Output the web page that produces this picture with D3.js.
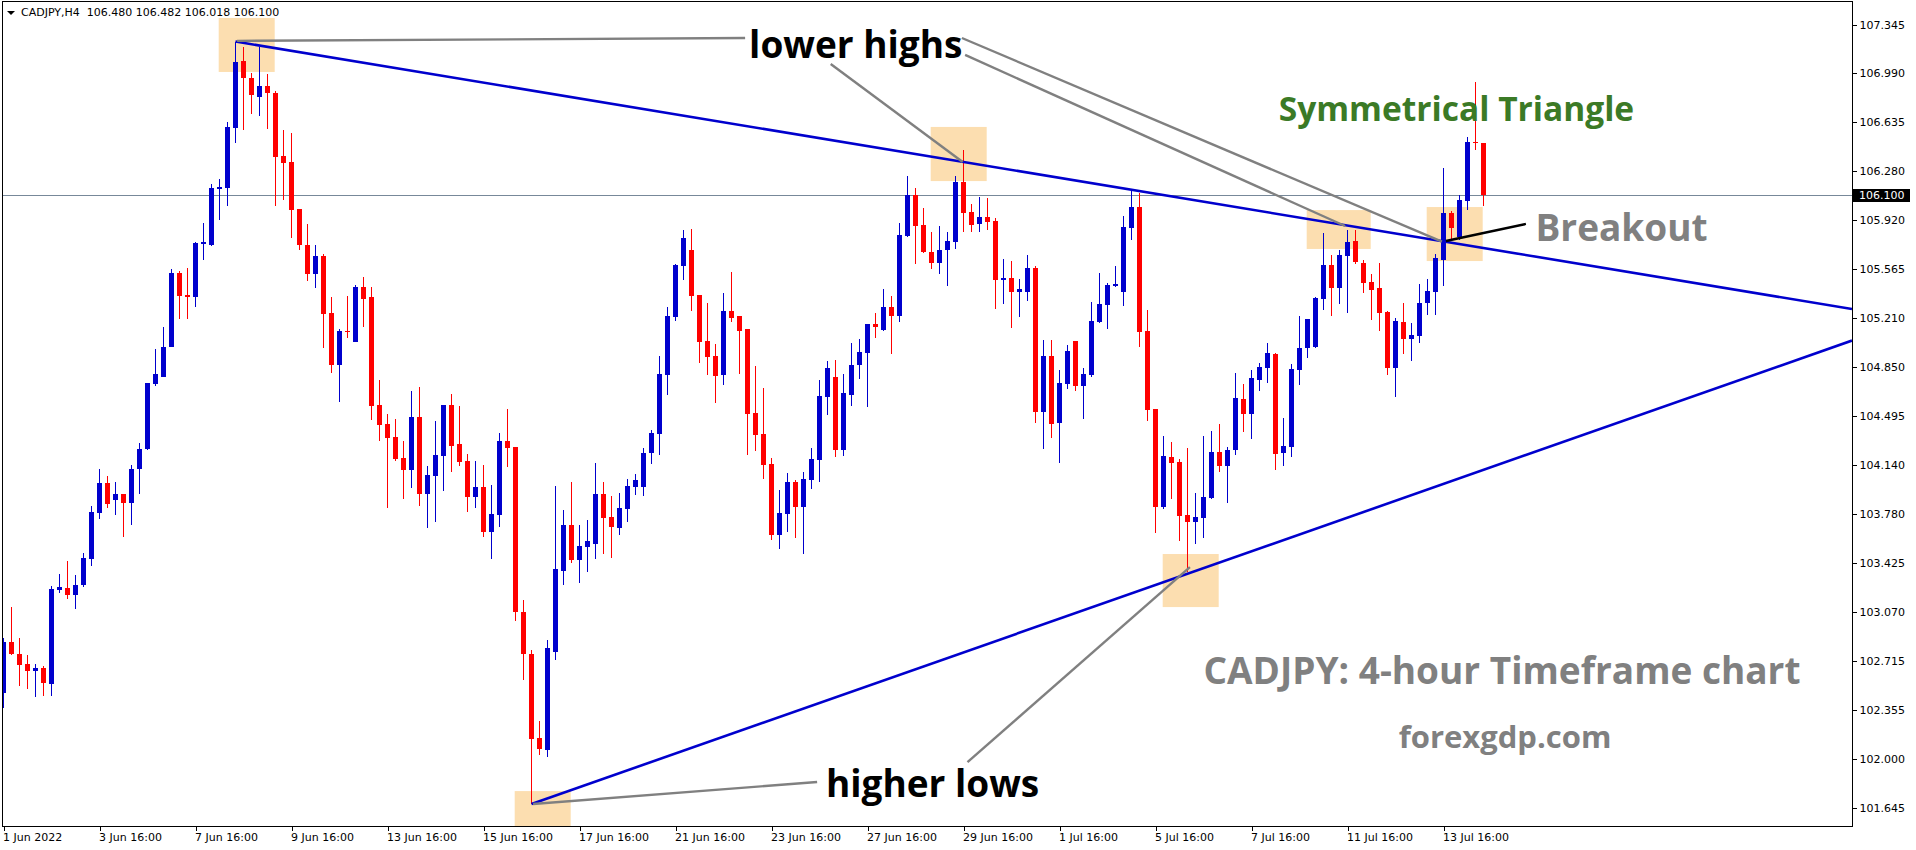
<!DOCTYPE html>
<html>
<head>
<meta charset="utf-8">
<script src="https://cdn.jsdelivr.net/npm/d3@7"></script>
<style>
  body { margin: 0; background: #fff; }
  .axis text { font-family: "DejaVu Sans", sans-serif; font-size: 11px; fill: #000; }
  .note { font-family: "Open Sans", sans-serif; font-weight: 700; }
</style>
</head>
<body>
<div id="chart"></div>
<script>
// CADJPY H4 candles, 1 Jun - 14 Jul 2022
const opens = [102.474,102.845,102.758,102.685,102.638,102.656,102.544,103.228,103.239,103.191,103.265,103.454,103.789,104.005,103.883,103.923,103.861,104.109,104.254,104.726,104.779,104.997,105.533,105.373,105.361,105.746,105.739,106.147,106.152,106.591,107.076,106.952,106.816,106.894,106.843,106.387,106.341,105.998,105.737,105.526,105.657,105.242,104.865,105.111,105.034,105.431,105.358,104.573,104.434,104.339,104.187,104.100,104.485,103.927,104.057,104.204,104.573,104.291,104.167,103.904,103.976,103.651,103.775,104.310,104.268,103.066,102.760,102.148,102.061,102.774,103.366,103.700,103.443,103.541,103.562,103.925,103.757,103.677,103.818,103.978,103.978,104.225,104.361,104.793,105.215,105.587,105.701,105.373,105.038,104.929,104.793,105.257,105.220,105.126,104.514,104.361,104.143,103.628,103.781,104.012,103.832,104.027,104.172,104.631,104.776,104.245,104.645,104.864,104.951,105.162,105.118,105.286,105.220,105.802,106.101,105.882,105.686,105.606,105.700,105.758,106.195,105.977,105.889,105.940,105.911,105.482,105.497,105.395,105.395,105.569,104.521,104.929,104.442,104.725,105.038,104.711,104.791,105.176,105.300,105.441,105.395,105.860,106.013,105.111,104.543,103.830,104.194,104.158,103.772,103.721,103.750,103.896,104.230,104.129,104.245,104.616,104.507,104.754,104.842,104.943,104.223,104.267,104.827,104.987,104.994,105.344,105.592,105.424,105.657,105.766,105.606,105.468,105.424,105.249,104.842,105.176,105.053,105.075,105.315,105.395,105.628,105.970,105.795,106.057,106.489,106.480];
const highs = [102.874,103.102,102.874,102.753,102.687,102.673,103.255,103.342,103.437,103.335,103.495,103.837,104.107,104.056,104.012,103.925,104.136,104.296,104.731,104.980,105.140,105.562,105.548,105.570,105.758,105.897,106.181,106.217,106.632,107.217,107.178,106.989,107.178,106.981,106.860,106.576,106.552,106.000,105.889,105.737,105.669,105.359,105.126,105.366,105.447,105.505,105.431,104.755,104.508,104.473,104.310,104.675,104.704,104.129,104.456,104.573,104.655,104.567,104.216,104.167,104.138,103.992,104.369,104.541,104.270,103.153,102.789,102.272,102.862,103.983,103.808,104.012,103.700,103.735,104.150,104.012,103.910,103.932,104.034,104.071,104.259,104.390,104.929,105.286,105.599,105.846,105.854,105.375,105.315,105.016,105.388,105.540,105.222,105.128,104.856,104.696,104.187,103.954,104.078,104.027,104.085,104.259,104.755,104.893,104.900,104.798,105.024,105.053,105.162,105.242,105.417,105.366,105.897,106.239,106.152,106.006,105.831,105.875,105.831,106.239,106.428,106.035,106.086,106.079,105.933,105.635,105.620,105.490,105.664,105.584,105.046,105.046,104.827,105.009,105.040,104.842,105.322,105.533,105.460,105.584,105.948,106.130,106.115,105.264,104.545,104.347,104.303,104.180,104.259,103.932,104.347,104.383,104.434,104.266,104.805,104.725,104.827,104.878,105.024,104.951,104.478,104.871,105.220,105.198,105.358,105.824,105.664,105.700,105.846,105.846,105.628,105.526,105.606,105.257,105.206,105.315,105.169,105.453,105.490,105.671,106.297,105.984,106.101,106.523,106.923,106.482];
const lows = [102.365,102.753,102.529,102.508,102.449,102.456,102.456,103.206,103.162,103.090,103.246,103.403,103.745,103.823,103.774,103.614,103.701,103.927,104.247,104.709,104.775,104.995,105.201,105.201,105.288,105.629,105.730,105.921,106.023,106.482,106.576,106.692,106.678,106.583,106.023,106.067,105.790,105.702,105.475,105.427,104.990,104.807,104.597,105.062,105.030,105.142,104.463,104.310,103.823,104.167,103.888,103.969,103.840,103.677,103.722,103.946,104.087,104.129,103.794,103.823,103.611,103.453,103.686,104.123,103.001,102.571,101.669,102.025,102.010,102.716,103.262,103.423,103.277,103.357,103.451,103.488,103.459,103.626,103.720,103.918,103.910,104.143,104.208,104.645,105.184,105.482,105.257,104.878,104.791,104.587,104.718,105.176,104.798,104.208,104.237,104.034,103.590,103.524,103.648,103.604,103.488,103.961,104.012,104.500,104.194,104.201,104.565,104.762,104.558,105.060,105.111,104.943,105.176,105.795,105.599,105.679,105.562,105.526,105.439,105.708,105.831,105.831,105.831,105.846,105.271,105.307,105.133,105.213,105.329,104.442,104.252,104.332,104.150,104.689,104.675,104.470,104.776,105.169,105.126,105.431,105.293,105.773,104.994,104.456,103.641,103.815,103.888,103.582,103.357,103.561,103.604,103.888,104.085,103.859,104.208,104.376,104.325,104.675,104.733,104.100,104.129,104.194,104.718,104.915,104.990,105.264,105.220,105.307,105.242,105.599,105.388,105.191,105.111,104.791,104.631,104.943,104.893,105.024,105.228,105.228,105.439,105.773,105.773,105.992,106.428,106.018];
const closes = [102.845,102.762,102.682,102.638,102.658,102.551,103.233,103.248,103.191,103.262,103.459,103.794,104.005,103.854,103.923,103.861,104.107,104.252,104.731,104.798,104.994,105.533,105.368,105.361,105.751,105.756,106.152,106.157,106.596,107.069,106.954,106.831,106.894,106.841,106.380,106.336,105.993,105.739,105.526,105.657,105.237,104.865,105.111,105.104,105.431,105.346,104.567,104.427,104.332,104.177,104.100,104.485,103.927,104.063,104.209,104.573,104.275,104.158,103.904,103.976,103.651,103.781,104.310,104.261,103.067,102.760,102.141,102.068,102.803,103.378,103.700,103.443,103.546,103.583,103.925,103.752,103.684,103.823,103.983,104.027,104.223,104.368,104.798,105.220,105.592,105.788,105.368,105.033,104.924,104.785,105.257,105.208,105.113,104.509,104.356,104.136,103.628,103.786,104.012,103.832,104.034,104.179,104.638,104.842,104.245,104.660,104.864,104.958,105.162,105.142,105.286,105.220,105.809,106.101,105.875,105.686,105.606,105.700,105.766,106.195,105.970,105.882,105.940,105.904,105.482,105.497,105.395,105.417,105.569,104.521,104.929,104.434,104.732,104.966,104.711,104.798,105.184,105.308,105.446,105.453,105.868,106.013,105.104,104.536,103.830,104.201,104.150,103.764,103.721,103.757,103.903,104.230,104.129,104.245,104.623,104.507,104.769,104.849,104.951,104.216,104.274,104.834,104.987,105.198,105.351,105.592,105.424,105.664,105.758,105.613,105.460,105.409,105.242,104.842,105.184,105.053,105.082,105.315,105.402,105.642,105.970,105.860,106.064,106.487,106.482,106.100];

// time axis: one label every 12 bars
const timeLabels = ["1 Jun 2022","3 Jun 16:00","7 Jun 16:00","9 Jun 16:00","13 Jun 16:00","15 Jun 16:00","17 Jun 16:00","21 Jun 16:00","23 Jun 16:00","27 Jun 16:00","29 Jun 16:00","1 Jul 16:00","5 Jul 16:00","7 Jul 16:00","11 Jul 16:00","13 Jul 16:00"];
const barsPerLabel = 12;
const priceTicks = [107.345,106.990,106.635,106.280,105.920,105.565,105.210,104.850,104.495,104.140,103.780,103.425,103.070,102.715,102.355,102.000,101.645];

const symbol = "CADJPY,H4";
const bidPrice = 106.100;

// annotations, in [bar, price]
const highlightBoxes = [[26.9, 33.9, 107.389, 106.996], [115.9, 122.9, 106.596, 106.202], [162.9, 170.9, 105.991, 105.708], [177.9, 184.9, 106.013, 105.620], [144.9, 151.9, 103.488, 103.102], [63.9, 70.9, 101.763, 101.508]];
const trendLines = [[29, 107.217, 180, 105.763], [66, 101.669, 231, 105.040]];
const pointerLines = [[29.2, 107.222, 92.7, 107.243], [103.4, 107.054, 119.9, 106.341], [119.8, 107.243, 179.8, 105.761], [120.2, 107.120, 167.7, 105.875], [66.2, 101.669, 101.7, 101.829], [120.5, 101.974, 148.3, 103.393]];
const breakoutLine = [180.3, 105.766, 190.3, 105.890];
const labels = [
  { text: "lower highs", bar: 93.2, price: 107.098, size: 37, color: "#000" },
  { text: "Symmetrical Triangle", bar: 159.4, price: 106.639, size: 33.5, color: "#3b7a26" },
  { text: "Breakout", bar: 191.5, price: 105.766, size: 37, color: "#808080" },
  { text: "CADJPY: 4-hour Timeframe chart", bar: 150.0, price: 102.542, size: 37, color: "#808080" },
  { text: "forexgdp.com", bar: 174.4, price: 102.076, size: 31, color: "#808080" },
  { text: "higher lows", bar: 102.8, price: 101.719, size: 37, color: "#000" }
];

const outerWidth = 1916;
const outerHeight = 850;
const plot = { left: 2, top: 1, right: 1852, bottom: 826 };

const svg = d3.select("#chart").append("svg")
  .attr("width", outerWidth)
  .attr("height", outerHeight);

const x = d3.scaleLinear().domain([0, 1]).range([3.5, 11.5]);
const y = d3.scaleLinear().domain([101.645, 107.345]).range([807.3, 24]);

svg.append("clipPath").attr("id", "plot-clip")
  .append("rect")
  .attr("x", plot.left).attr("y", plot.top)
  .attr("width", plot.right - plot.left).attr("height", plot.bottom - plot.top);

const g = svg.append("g").attr("clip-path", "url(#plot-clip)");

// highlight boxes (behind everything)
g.selectAll("rect.box")
  .data(highlightBoxes)
  .join("rect")
  .attr("class", "box")
  .attr("x", d => x(d[0]))
  .attr("y", d => y(d[2]))
  .attr("width", d => x(d[1]) - x(d[0]))
  .attr("height", d => y(d[3]) - y(d[2]))
  .attr("fill", "#fcdeb0");

// bid line
g.append("line")
  .attr("x1", plot.left).attr("x2", plot.right)
  .attr("y1", Math.round(y(bidPrice)) + 0.5).attr("y2", Math.round(y(bidPrice)) + 0.5)
  .attr("stroke", "#778899")
  .attr("stroke-width", 1);

// candles
const bars = opens.map((o, i) => ({ i, o, h: highs[i], l: lows[i], c: closes[i] }));
const colorOf = d => d.c >= d.o ? "#0000cd" : "#ff0000";

const candles = g.selectAll("g.candle")
  .data(bars)
  .join("g")
  .attr("class", "candle")
  .attr("shape-rendering", "crispEdges");

candles.append("line")
  .attr("x1", d => x(d.i)).attr("x2", d => x(d.i))
  .attr("y1", d => y(d.h)).attr("y2", d => y(d.l))
  .attr("stroke", colorOf)
  .attr("stroke-width", 1);

candles.append("rect")
  .attr("x", d => x(d.i) - 2.5)
  .attr("width", 5)
  .attr("y", d => y(Math.max(d.o, d.c)))
  .attr("height", d => Math.max(1, Math.abs(y(d.o) - y(d.c))))
  .attr("fill", colorOf);

// trend lines, drawn as rays to the right edge
const rightBar = x.invert(plot.right);
g.selectAll("line.trend")
  .data(trendLines)
  .join("line")
  .attr("class", "trend")
  .attr("x1", d => x(d[0]))
  .attr("y1", d => y(d[1]))
  .attr("x2", x(rightBar))
  .attr("y2", d => y(d[1] + (d[3] - d[1]) * (rightBar - d[0]) / (d[2] - d[0])))
  .attr("stroke", "#0000cd")
  .attr("stroke-width", 2.6);

// grey pointers
g.selectAll("line.pointer")
  .data(pointerLines)
  .join("line")
  .attr("class", "pointer")
  .attr("x1", d => x(d[0])).attr("y1", d => y(d[1]))
  .attr("x2", d => x(d[2])).attr("y2", d => y(d[3]))
  .attr("stroke", "#808080")
  .attr("stroke-width", 2.4);

g.append("line")
  .attr("x1", x(breakoutLine[0])).attr("y1", y(breakoutLine[1]))
  .attr("x2", x(breakoutLine[2])).attr("y2", y(breakoutLine[3]))
  .attr("stroke", "#000")
  .attr("stroke-width", 2.4);

// text labels
svg.selectAll("text.note")
  .data(labels)
  .join("text")
  .attr("class", "note")
  .attr("x", d => x(d.bar))
  .attr("y", d => y(d.price))
  .attr("font-size", d => d.size + "px")
  .attr("fill", d => d.color)
  .text(d => d.text);

// frame
svg.append("rect")
  .attr("x", plot.left + 0.5).attr("y", plot.top + 0.5)
  .attr("width", plot.right - plot.left).attr("height", plot.bottom - plot.top)
  .attr("fill", "none")
  .attr("stroke", "#000")
  .attr("shape-rendering", "crispEdges");

// price axis
const yAxis = svg.append("g")
  .attr("class", "axis")
  .attr("transform", `translate(${plot.right + 0.5}, 0.5)`)
  .call(d3.axisRight(y).tickValues(priceTicks).tickSize(4).tickPadding(3).tickFormat(d3.format(".3f")));
yAxis.select(".domain").remove();
yAxis.selectAll("line").attr("shape-rendering", "crispEdges");

// bid label
const bidY = Math.round(y(bidPrice));
svg.append("rect")
  .attr("x", plot.right + 1).attr("y", bidY - 6)
  .attr("width", 57).attr("height", 13)
  .attr("fill", "#000");
svg.append("text")
  .attr("class", "axis")
  .attr("x", plot.right + 7).attr("y", bidY)
  .attr("dy", "0.35em")
  .style("font-family", "DejaVu Sans")
  .style("font-size", "11px")
  .attr("fill", "#fff")
  .text(d3.format(".3f")(bidPrice));

// time axis
const tickBars = timeLabels.map((_, k) => k * barsPerLabel);
const xAxis = svg.append("g")
  .attr("class", "axis")
  .attr("transform", `translate(0, ${plot.bottom + 0.5})`)
  .call(d3.axisBottom(x).tickValues(tickBars).tickSize(4).tickPadding(3).tickFormat((d, k) => timeLabels[k]));
xAxis.select(".domain").remove();
xAxis.selectAll("line").attr("shape-rendering", "crispEdges");
xAxis.selectAll("text").attr("text-anchor", "start").attr("dx", -1);

// header
const last = bars[bars.length - 1];
const fmt = d3.format(".3f");
svg.append("path")
  .attr("d", "M7,11 L15,11 L11,15 Z")
  .attr("fill", "#000");
svg.append("text")
  .attr("x", 21).attr("y", 16)
  .style("font-family", "DejaVu Sans")
  .style("font-size", "11px")
  .attr("fill", "#000")
  .attr("xml:space", "preserve")
  .text(`${symbol}  ${fmt(last.o)} ${fmt(last.h)} ${fmt(last.l)} ${fmt(last.c)}`);
</script>
</body>
</html>
